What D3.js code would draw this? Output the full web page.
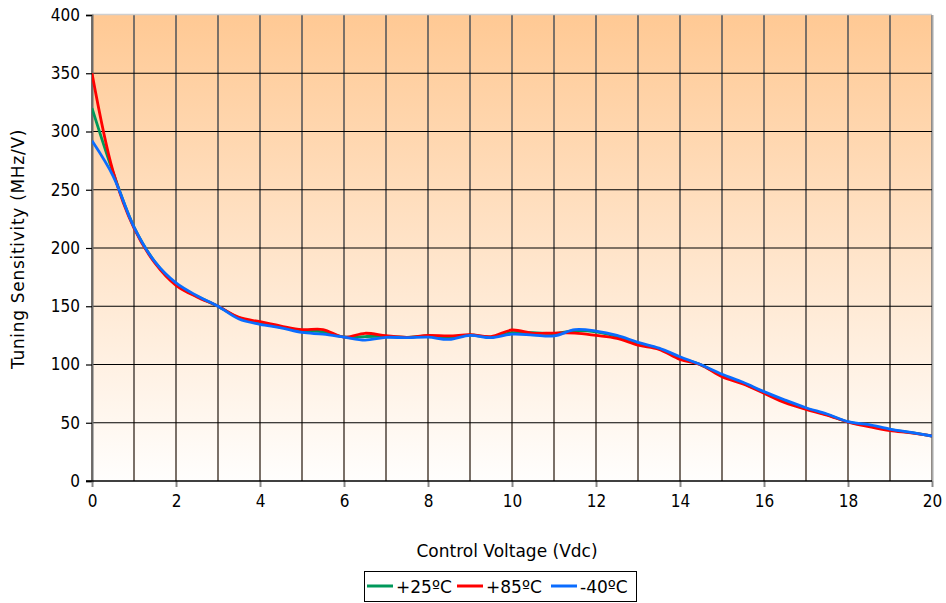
<!DOCTYPE html>
<html><head><meta charset="utf-8">
<script src="https://cdn.jsdelivr.net/npm/d3@7/dist/d3.min.js"></script>
<style>
html,body{margin:0;padding:0;background:#fff;}
text{font-family:"DejaVu Sans Condensed","DejaVu Sans",sans-serif;fill:#000;}
.wide{font-family:"DejaVu Sans",sans-serif;}
</style></head>
<body>
<svg id="chart" width="946" height="603"></svg>
<script>
const voltage = [0,0.5,1,1.5,2,2.5,3,3.5,4,4.5,5,5.5,6,6.5,7,7.5,8,8.5,9,9.5,10,10.5,11,11.5,12,12.5,13,13.5,14,14.5,15,15.5,16,16.5,17,17.5,18,18.5,19,19.5,20];
const t25 = [320,265,218,188,169,158.5,150,140,135.5,132,129,128,123.7,124,124,123.3,124.5,123,125.3,123.5,127.3,127.3,126.5,129,128,124,118,113.5,105.5,99.7,90.5,84,76,68.5,62.2,57,50.8,47.5,44,41.5,38.6];
const t85 = [350,266,217,187,168,158,150,140.5,136.7,133,130,130,123.5,126.8,124.7,123.3,125,124.5,125.6,124,129.6,126.8,127,127,125,122.5,116.7,113,104.4,99.6,89.5,83.3,75.3,67.2,61.5,56.6,50.6,46.6,43.2,41.3,38.6];
const tm40 = [292,262,218,188,170,159,150,139,134.5,131.5,127.5,126,123.5,121,123.3,123,123.5,121.5,125,123,126,125.3,124.5,129.9,128.7,125,119,114,106.7,99.8,91.6,84.7,76.7,69.5,62.9,57.5,51,48.3,44.6,41.7,38.6];
const seriesNames = ["+25ºC","+85ºC","-40ºC"];
const seriesColors = ["#00985A","#FF0000","#0A6CFF"];
const yTicks = [0,50,100,150,200,250,300,350,400];
const xTicks = [0,2,4,6,8,10,12,14,16,18,20];
const xGrid = [0,1,2,3,4,5,6,7,8,9,10,11,12,13,14,15,16,17,18,19,20];

const svg = d3.select("#chart");
const L=92, R=932, T=15, B=481;
const x = d3.scaleLinear().domain([0,20]).range([L,R]);
const y = d3.scaleLinear().domain([0,400]).range([B,T]);

const defs = svg.append("defs");
const grad = defs.append("linearGradient").attr("id","bg").attr("x1",0).attr("y1",0).attr("x2",0).attr("y2",1);
grad.append("stop").attr("offset","0%").attr("stop-color","#FFC994");
grad.append("stop").attr("offset","100%").attr("stop-color","#FFFEFD");
defs.append("clipPath").attr("id","clip").append("rect").attr("x",L).attr("y",T).attr("width",R-L).attr("height",B-T);

svg.append("rect").attr("x",L).attr("y",T).attr("width",R-L).attr("height",B-T).attr("fill","url(#bg)");

// vertical gridlines
svg.append("g").selectAll("line").data(xGrid).join("line")
  .attr("x1",d=>x(d)).attr("x2",d=>x(d)).attr("y1",T).attr("y2",B)
  .attr("stroke","#7a7068").attr("stroke-width",2);
// border top/right
svg.append("line").attr("x1",L).attr("x2",R).attr("y1",T-0.5).attr("y2",T-0.5).attr("stroke","#cfcfcf").attr("stroke-width",1.5);
svg.append("line").attr("x1",R+0.5).attr("x2",R+0.5).attr("y1",T).attr("y2",B).attr("stroke","#a8a8a8").attr("stroke-width",2);
// horizontal gridlines
svg.append("g").selectAll("line").data(yTicks.filter(d=>d>0&&d<400)).join("line")
  .attr("x1",L).attr("x2",R).attr("y1",d=>y(d)).attr("y2",d=>y(d))
  .attr("stroke","#000").attr("stroke-width",1.2);

// axes
const yAxis = d3.axisLeft(y).tickValues(yTicks).tickSize(6).tickPadding(6);
const gy = svg.append("g").attr("transform",`translate(${L},0)`).call(yAxis);
gy.select(".domain").attr("stroke","#6a6a6a").attr("stroke-width",2);
gy.selectAll(".tick line").attr("stroke","#000").attr("stroke-width",1.2);
gy.selectAll("text").style("font-size","17px");

const xAxis = d3.axisBottom(x).tickValues(xTicks).tickSize(6).tickPadding(8);
const gx = svg.append("g").attr("transform",`translate(0,${B})`).call(xAxis);
gx.select(".domain").remove();
gx.append("line").attr("x1",L-6).attr("x2",R).attr("y1",0).attr("y2",0).attr("stroke","#000").attr("stroke-width",1.5);
gx.selectAll(".tick line").attr("stroke","#888").attr("stroke-width",2);
gx.selectAll("text").style("font-size","17px");

// lines
const allSeries = [t25,t85,tm40];
const line = d3.line().x((d,i)=>x(voltage[i])).y(d=>y(d)).curve(d3.curveCatmullRom.alpha(0.5));
svg.append("g").attr("clip-path","url(#clip)").selectAll("path").data(allSeries).join("path")
  .attr("d",d=>line(d)).attr("fill","none")
  .attr("stroke",(d,i)=>seriesColors[i]).attr("stroke-width",2.8).attr("stroke-linejoin","round");

// titles
svg.append("text").attr("class","wide").attr("x",507).attr("y",557).attr("text-anchor","middle").style("font-size","17px").text("Control Voltage (Vdc)");
svg.append("text").attr("class","wide").attr("transform","translate(24,249) rotate(-90)").attr("text-anchor","middle").style("font-size","17px").style("letter-spacing","0.7px").text("Tuning Sensitivity (MHz/V)");

// legend
const lg = svg.append("g");
lg.append("rect").attr("x",364.5).attr("y",571.5).attr("width",272).attr("height",30).attr("fill","#fff").attr("stroke","#000").attr("stroke-width",1);
const itemX = [367,457,551];
seriesNames.forEach((n,i)=>{
  lg.append("line").attr("x1",itemX[i]).attr("x2",itemX[i]+26).attr("y1",586).attr("y2",586).attr("stroke",seriesColors[i]).attr("stroke-width",3);
  lg.append("text").attr("class","wide").attr("x",itemX[i]+29).attr("y",592.5).style("font-size","17px").text(n);
});
</script>
</body></html>
